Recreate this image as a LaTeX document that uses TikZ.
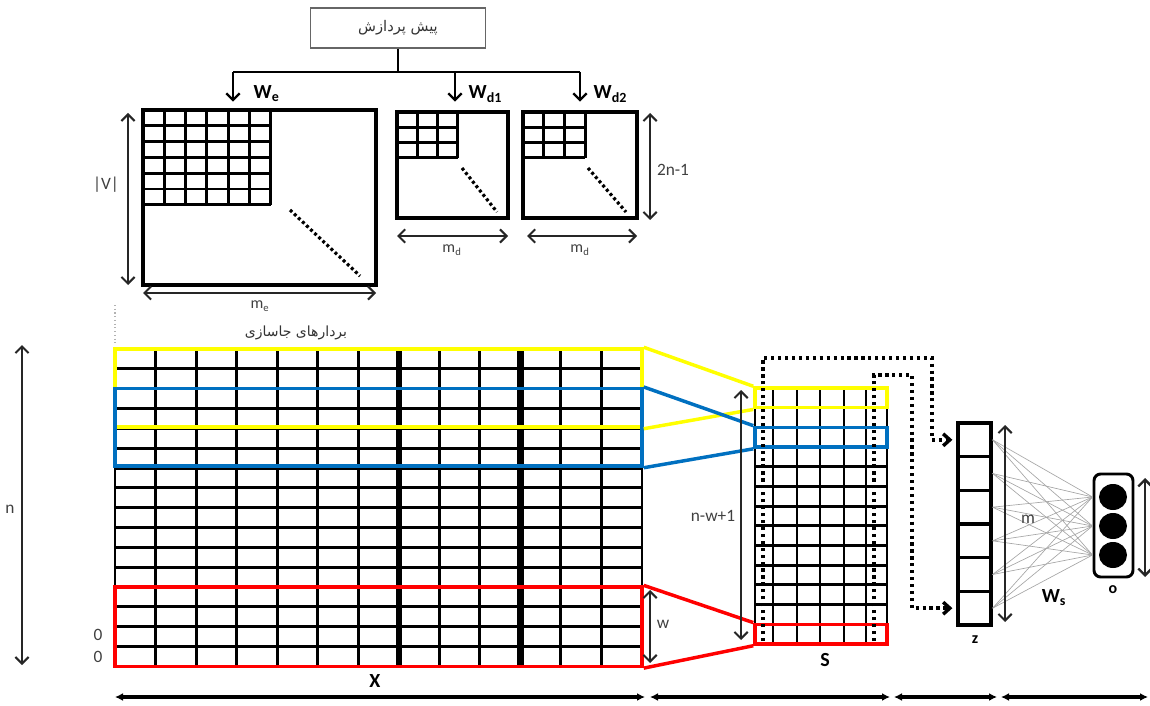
\documentclass[tikz,border=0pt]{standalone}
\usepackage{fontspec}
\setmainfont{Carlito}
\newfontfamily\fafont[Script=Arabic]{DejaVu Sans}
\TeXXeTstate=1
\usetikzlibrary{arrows.meta,shapes.geometric,fit}
\definecolor{winyellow}{RGB}{255,255,0}
\definecolor{winblue}{RGB}{0,112,192}
\definecolor{winred}{RGB}{255,0,0}

\begin{document}
\begin{tikzpicture}[x=0.75pt,y=-0.75pt,
  dim/.style={line width=1.5pt, draw=black!85, {Straight Barb[length=5pt,width=10pt]}-{Straight Barb[length=5pt,width=10pt]}},
  extent/.style={line width=2.4pt, {Latex[length=6pt,width=6pt]}-{Latex[length=6pt,width=6pt]}},
  feed/.style={line width=1.8pt, -{Straight Barb[length=5pt,width=10pt]}, shorten >=1pt},
  gridline/.style={line width=2.2pt},
  mframe/.style={draw, line width=2.6pt, inner sep=0pt},
  dotdiag/.style={line width=2.4pt, dash pattern=on 2.2pt off 2pt},
  loopline/.style={line width=2.6pt, dash pattern=on 2.4pt off 2.8pt, -{Straight Barb[length=5pt,width=9pt]}, shorten >=3pt},
  win/.style={draw, line width=2.6pt, inner sep=0pt},
  lbl/.style={font=\fontsize{13}{15}\selectfont, text=black!75},
  blbl/.style={font=\fontsize{15}{17}\selectfont\bfseries},
  falbl/.style={font=\fafont\fontsize{11}{13}\selectfont, text=black!80},
  zcell/.style={draw, line width=2.4pt, minimum width=24.75pt, minimum height=25.25pt, inner sep=0pt},
  unit/.style={ellipse, fill=black, minimum width=21pt, minimum height=19.5pt, inner sep=0pt}]
\useasboundingbox (0,0) rectangle (1150,706);

\node[draw=black!60, line width=0.8pt, minimum width=131pt, minimum height=30pt, falbl] (pre) at (398,28) {\beginR پیش پردازش\endR};
\coordinate (split) at (398,72);
\coordinate (tWe) at (233,72);
\coordinate (tWd1) at (455,72);
\coordinate (tWd2) at (580,72);
\coordinate (hWe) at (233,103);
\coordinate (hWd1) at (455,103);
\coordinate (hWd2) at (580,103);
\draw[line width=1.8pt] (pre.south) -- (split);
\draw[line width=1.8pt] (tWe) -- (tWd2);
\draw[feed] (tWe) -- (hWe);
\draw[feed] (tWd1) -- (hWd1);
\draw[feed] (tWd2) -- (hWd2);
\node[blbl, anchor=west] (lWe) at (249,94) {W\textsubscript{e}};
\node[blbl, anchor=west] (lWd1) at (464,94) {W\textsubscript{d1}};
\node[blbl, anchor=west] (lWd2) at (589,94) {W\textsubscript{d2}};

\node[mframe, fit={(143,110) (376,285)}] (We) {};
\foreach \k in {1,...,6} {
  \draw[gridline] ({143+21.3*\k},110) -- ({143+21.3*\k},205);
  \draw[gridline] (143,{110+15.8*\k}) -- (271,{110+15.8*\k});
}
\draw[dotdiag] (290,210) -- (360,276);
\coordinate (V-t) at (128,113);
\coordinate (V-b) at (128,285);
\draw[dim] (V-t) -- (V-b);
\node[lbl] (lV) at (106,185) {|V|};
\coordinate (me-l) at (143,293);
\coordinate (me-r) at (376,293);
\draw[dim] (me-l) -- (me-r);
\node[lbl, font=\fontsize{12}{14}\selectfont] (lme) at (260,306) {m\textsubscript{e}};

\node[mframe, fit={(397,112) (508,218)}] (Wd1) {};
\node[mframe, fit={(523,112) (637,218)}] (Wd2) {};
\foreach \k in {1,2,3} {
  \draw[gridline] ({397+20.3*\k},112) -- ({397+20.3*\k},158);
  \draw[gridline] (397,{112+15.3*\k}) -- (458,{112+15.3*\k});
  \draw[gridline] ({523+20.7*\k},112) -- ({523+20.7*\k},158);
  \draw[gridline] (523,{112+15.3*\k}) -- (585,{112+15.3*\k});
}
\draw[dotdiag] (462,168) -- (497,212);
\draw[dotdiag] (588,168) -- (626,212);
\coordinate (md1-l) at (397,236);
\coordinate (md1-r) at (508,236);
\coordinate (md2-l) at (527,236);
\coordinate (md2-r) at (637,236);
\draw[dim] (md1-l) -- (md1-r);
\draw[dim] (md2-l) -- (md2-r);
\node[lbl, font=\fontsize{12}{14}\selectfont] (lmd1) at (452,250) {m\textsubscript{d}};
\node[lbl, font=\fontsize{12}{14}\selectfont] (lmd2) at (580,250) {m\textsubscript{d}};
\coordinate (dn-t) at (650,113);
\coordinate (dn-b) at (650,220);
\draw[dim] (dn-t) -- (dn-b);
\node[lbl] (ldn) at (673,170) {2n-1};

\draw[gray!60, dotted, line width=0.8pt] (115,305) -- (115,346);
\node[falbl, font=\fafont\fontsize{10.5}{12}\selectfont] (lemb) at (296,333) {\beginR بردارهای جاسازی\endR};
\foreach \r in {0,...,16}
  \draw[gridline] (115,{349+19.84*\r}) -- (642,{349+19.84*\r});
\foreach \c in {0,...,13}
  \draw[gridline] ({115+40.54*\c},349) -- ({115+40.54*\c},666.4);
\foreach \c in {7,10}
  \draw[line width=4.8pt] ({115+40.54*\c},349) -- ({115+40.54*\c},666.4);
\node[win, winyellow, fit={(115,349) (642,427)}] (Xy) {};
\node[win, winblue, fit={(115,388.7) (642,466)}] (Xb) {};
\node[win, winred, fit={(115,587.1) (642,666.4)}] (Xr) {};

\foreach \r in {0,...,13}
  \draw[gridline] (755,{388+19.69*\r}) -- (887,{388+19.69*\r});
\foreach \x in {755,773,797,820,844,866,887}
  \draw[gridline] (\x,388) -- (\x,644);
\node[win, winyellow, fit={(755,388) (887,407.7)}] (Sy) {};
\node[win, winblue, fit={(755,427.4) (887,447.1)}] (Sb) {};
\node[win, winred, fit={(755,624.3) (887,644)}] (Sr) {};

\draw[line width=2.6pt, winyellow] (Xy.north east) -- (Sy.north west);
\draw[line width=2.6pt, winyellow] (Xy.south east) -- (Sy.south west);
\draw[line width=2.6pt, winblue] (Xb.north east) -- (Sb.north west);
\draw[line width=2.6pt, winblue] (Xb.south east) -- (Sb.south west);
\draw[line width=2.6pt, winred] (Xr.north east) -- (Sr.north west);
\draw[line width=2.6pt, winred] (Xr.south east) -- (Sr.south west);

\foreach \i in {1,...,6}
  \node[zcell] (z\i) at (974.5,{423+33.67*(\i-0.5)}) {};
\coordinate (p1s) at (763,641);
\coordinate (p2s) at (874,641);
\draw[loopline] (p1s) -- (763,358) -- (932,358) |- (z1.west);
\draw[loopline] (p2s) -- (874,375) -- (912,375) |- (z6.west);

\node[draw, line width=2.2pt, rounded corners=5pt, minimum width=29.25pt, minimum height=77.25pt] (out) at (1113.5,525.5) {};
\foreach \j/\yy in {1/497,2/526,3/555}
  \node[unit] (o\j) at (1113,\yy) {};
\foreach \i in {1,...,6}
  \foreach \j in {1,2,3}
    \draw[gray!70, line width=0.5pt] (z\i.east) -- (out.west |- o\j);

\coordinate (m-t) at (1005,425);
\coordinate (m-b) at (1005,622);
\draw[dim] (m-t) -- (m-b);
\node[lbl] (lm) at (1028,519) {m};
\coordinate (o-t) at (1145,478);
\coordinate (o-b) at (1145,577);
\draw[dim, line width=1.8pt] (o-t) -- (o-b);
\node[blbl, font=\fontsize{12}{14}\selectfont\bfseries] (lo) at (1113,590) {o};
\node[blbl, font=\fontsize{12}{14}\selectfont\bfseries] (lz) at (975,640) {z};
\node[blbl] (lWs) at (1054,598) {W\textsubscript{s}};
\node[blbl] (lS) at (825,660) {S};
\node[blbl] (lX) at (375,681) {X};

\coordinate (nwt) at (741,390);
\coordinate (nwb) at (741,640);
\draw[dim] (nwt) -- (nwb);
\node[lbl] (lnw) at (713,516) {n-w+1};
\coordinate (w-t) at (650,590);
\coordinate (w-b) at (650,663);
\draw[dim] (w-t) -- (w-b);
\node[lbl] (lw) at (663,624) {w};
\coordinate (n-t) at (22,345);
\coordinate (n-b) at (22,665);
\draw[dim] (n-t) -- (n-b);
\node[lbl] (ln) at (10,509) {n};
\node[lbl] (lpad1) at (98,635) {0};
\node[lbl] (lpad2) at (98,657) {0};

\coordinate (b0) at (115,697);
\coordinate (b1) at (645,697);
\coordinate (b2) at (650,697);
\coordinate (b3) at (890,697);
\coordinate (b4) at (894,697);
\coordinate (b5) at (997,697);
\coordinate (b6) at (1001,697);
\coordinate (b7) at (1148,697);
\draw[extent] (b0) -- (b1);
\draw[extent] (b2) -- (b3);
\draw[extent] (b4) -- (b5);
\draw[extent] (b6) -- (b7);
\end{tikzpicture}
\end{document}
